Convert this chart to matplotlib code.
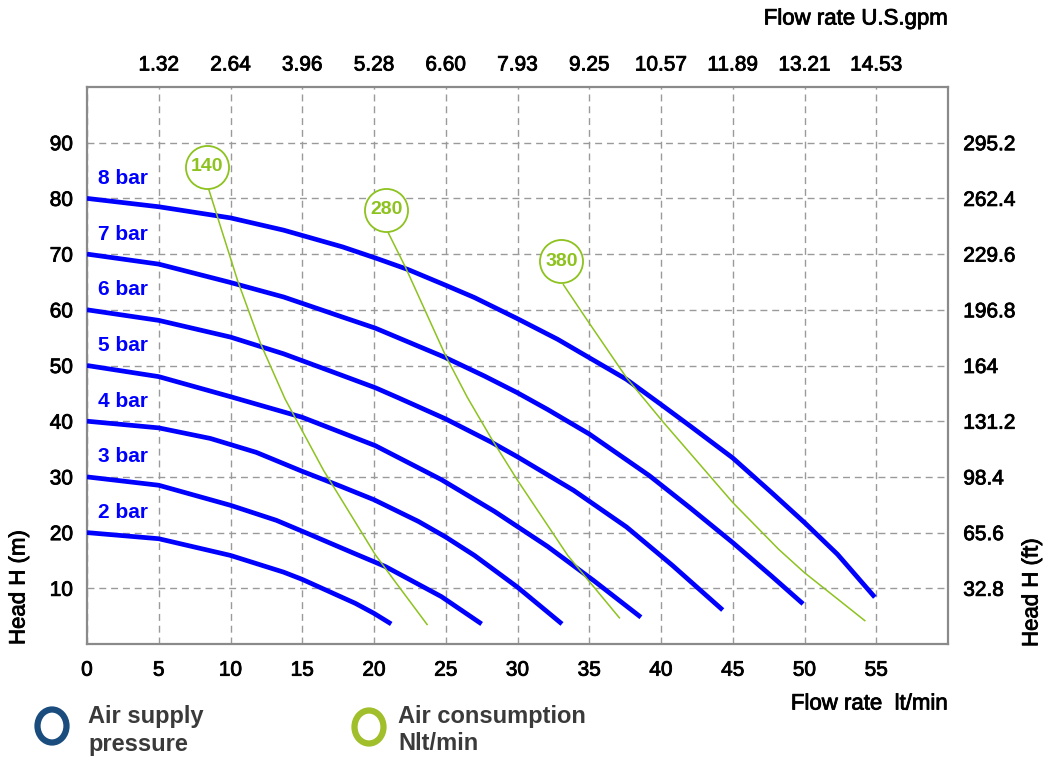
import matplotlib
matplotlib.use('Agg')
import matplotlib.pyplot as plt
import matplotlib.patheffects as pe
from matplotlib.patches import Ellipse

plt.rcParams['font.family'] = ['Liberation Sans', 'DejaVu Sans']

# axis ticks
flow_ticks = [0, 5, 10, 15, 20, 25, 30, 35, 40, 45, 50, 55]
gpm_ticks = [5, 10, 15, 20, 25, 30, 35, 40, 45, 50, 55]
gpm_labels = ['1.32', '2.64', '3.96', '5.28', '6.60', '7.93', '9.25',
              '10.57', '11.89', '13.21', '14.53']
head_ticks = [10, 20, 30, 40, 50, 60, 70, 80, 90]
head_ft_labels = ['32.8', '65.6', '98.4', '131.2', '164', '196.8',
                  '229.6', '262.4', '295.2']

# air supply pressure curves: flow (lt/min) -> head (m)
bar2_x = [0, 5, 10, 13.7, 15, 18.7, 20, 21.2]
bar2_y = [20, 18.9, 15.9, 12.9, 11.6, 7.3, 5.5, 3.6]
bar3_x = [0, 5, 10, 13.2, 15.5, 18.5, 20.8, 24.7, 27.5]
bar3_y = [30, 28.5, 24.9, 22.2, 19.7, 16.4, 13.9, 8.5, 3.6]
bar4_x = [0, 5, 8.6, 11.8, 15, 17.5, 20, 23.1, 25, 27, 30, 33.1]
bar4_y = [40, 38.8, 36.9, 34.4, 31, 28.5, 25.9, 22, 19.2, 15.9, 10.2, 3.6]
bar5_x = [0, 5, 10, 15, 20.1, 24.7, 28.4, 32.1, 35.3, 38.6]
bar5_y = [50, 48, 44.4, 40.7, 35.6, 29.5, 23.8, 17.5, 11.4, 4.8]
bar6_x = [0, 5, 10, 13.7, 17.8, 20.1, 21.7, 25, 28.2, 30, 33.9, 37.6,
          40.8, 44.3]
bar6_y = [60, 58.1, 55.1, 52.1, 48.2, 46.0, 44.2, 40.4, 36.2, 33.6, 27.6,
          21, 14.1, 6.1]
bar7_x = [0, 5, 10, 13.7, 17.8, 20.1, 25, 27.7, 30, 32.1, 35, 39.2, 42,
          45, 47.7, 49.9]
bar7_y = [70, 68.2, 64.9, 62.3, 58.7, 56.7, 51.4, 48.1, 45.1, 42.1, 37.7,
          30.2, 24.5, 18.2, 12.2, 7.2]
bar8_x = [0, 5, 10, 13.7, 17.8, 20.1, 22.4, 25, 27, 30, 32.8, 35, 37.6,
          40, 42, 45, 47.7, 50, 52.3, 54.9]
bar8_y = [80, 78.5, 76.5, 74.3, 71.3, 69.3, 67.2, 64.4, 62.2, 58.4, 54.7,
          51.4, 47.5, 43, 39.2, 33.4, 27.2, 21.8, 16.1, 8.4]

pressures = [2, 3, 4, 5, 6, 7, 8]
pressure_x = [bar2_x, bar3_x, bar4_x, bar5_x, bar6_x, bar7_x, bar8_x]
pressure_y = [bar2_y, bar3_y, bar4_y, bar5_y, bar6_y, bar7_y, bar8_y]

# air consumption lines (Nlt/min)
air140_x = [8.5, 10.5, 12.1, 13.8, 16.5, 20.1, 21.5, 23.7]
air140_y = [81.5, 65.2, 53.9, 44, 31.1, 16, 11.1, 3.5]
air280_x = [21, 22.2, 25, 26.5, 28.2, 30, 33.5, 37.1]
air280_y = [73.8, 67.6, 51.7, 44.3, 36.8, 29.4, 15.9, 4.7]
air380_x = [33.2, 35, 37.6, 40.1, 45, 48.2, 50, 54.2]
air380_y = [64.5, 57.6, 47.8, 40, 25.4, 17, 12.8, 4.2]

air_values = [140, 280, 380]
air_x = [air140_x, air280_x, air380_x]
air_y = [air140_y, air280_y, air380_y]

BLUE = '#0000ff'
GREEN = '#8dc21f'
GRID = '#9a9a9a'
SPINE = '#8a8a8a'
heavy = [pe.withStroke(linewidth=0.6, foreground='black')]

fig = plt.figure(figsize=(10.54, 7.57), dpi=100)
ax = fig.add_axes([87 / 1054, 113 / 757, 861 / 1054, 557 / 757])
ax.set_xlim(0, 60)
ax.set_ylim(0, 100)

ax.set_xticks(flow_ticks)
ax.set_yticks(head_ticks)
ax.tick_params(length=0, labelsize=15)
ax.tick_params(axis='x', pad=12)
ax.tick_params(axis='y', pad=10)
ax.grid(True, color=GRID, linestyle=(0, (5, 3.5)), linewidth=1)
for s in ax.spines.values():
    s.set_color(SPINE)
    s.set_linewidth(1.6)

for p, xs, ys in zip(pressures, pressure_x, pressure_y):
    ax.plot(xs, ys, color=BLUE, lw=3.4, solid_capstyle='butt',
            solid_joinstyle='round', zorder=3)
    ax.text(0.8, ys[0] + 3.6, '%d bar' % p, color=BLUE, fontsize=15,
            fontweight='bold', ha='left', va='center')

for v, xs, ys in zip(air_values, air_x, air_y):
    ax.plot(xs, ys, color=GREEN, lw=1.1, zorder=4)
    cx, cy = xs[0] - 0.15, ys[0] + 4.2
    ax.plot([cx], [cy], 'o', ms=31, mfc='white', mec=GREEN, mew=1.3,
            zorder=5, clip_on=False)
    ax.text(cx, cy, str(v), color=GREEN, fontsize=14, fontweight='bold',
            ha='center', va='center', zorder=6)

# top axis: U.S. gpm
ax_top = ax.twiny()
ax_top.set_xlim(ax.get_xlim())
ax_top.set_xticks(gpm_ticks)
ax_top.set_xticklabels(gpm_labels)
ax_top.tick_params(length=0, labelsize=15, pad=9)

# right axis: head in ft
ax_right = ax.twinx()
ax_right.set_ylim(ax.get_ylim())
ax_right.set_yticks(head_ticks)
ax_right.set_yticklabels(head_ft_labels)
ax_right.tick_params(length=0, labelsize=15, pad=11)
for a in (ax_top, ax_right):
    for s in a.spines.values():
        s.set_visible(False)

for lab in (ax.get_xticklabels() + ax.get_yticklabels() +
            ax_top.get_xticklabels() + ax_right.get_yticklabels()):
    lab.set_path_effects(heavy)

fig.text(948 / 1054, 1 - 19 / 757, 'Flow rate U.S.gpm', fontsize=16,
         ha='right', va='center', path_effects=heavy)
fig.text(948 / 1054, 1 - 704 / 757, 'Flow rate  lt/min', fontsize=16,
         ha='right', va='center', path_effects=heavy)
fig.text(19 / 1054, 1 - 645 / 757, 'Head H (m)', fontsize=16,
         rotation=90, ha='center', va='bottom', path_effects=heavy)
fig.text(1032 / 1054, 1 - 647 / 757, 'Head H (ft)', fontsize=16,
         rotation=90, ha='center', va='bottom', path_effects=heavy)

# legend at the bottom
leg = fig.add_axes([0, 0, 1, 1], zorder=-1)
leg.set_xlim(0, 1054)
leg.set_ylim(757, 0)
leg.axis('off')
leg.add_patch(Ellipse((52, 726), 29, 33, fill=False, lw=4.5,
                      edgecolor='#1a4d7e'))
leg.add_patch(Ellipse((369, 727), 29, 33, fill=False, lw=4.5,
                      edgecolor='#a0bf2a'))
for x, line1, line2 in [(88, 'Air supply', 'pressure'),
                        (398, 'Air consumption', 'Nlt/min')]:
    leg.text(x, 717, line1, fontsize=17, fontweight='bold',
             color='#3a3a3a', va='center', ha='left')
    leg.text(x, 744, line2, fontsize=17, fontweight='bold',
             color='#3a3a3a', va='center', ha='left')

fig.savefig('out.png', dpi=100, facecolor='white')
